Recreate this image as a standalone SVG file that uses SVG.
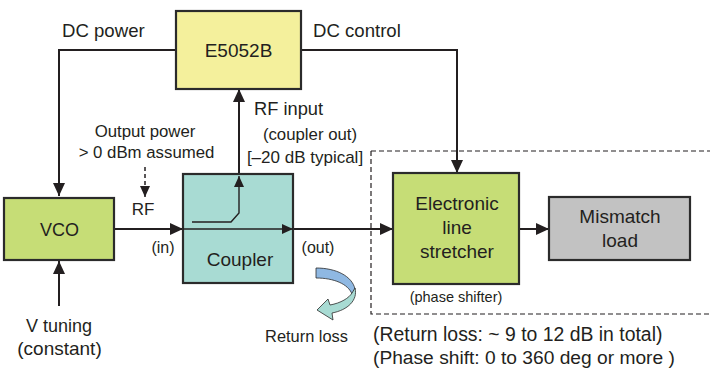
<svg xmlns="http://www.w3.org/2000/svg" width="710" height="370" viewBox="0 0 710 370">
<defs>
<style>
.t{font-family:"Liberation Sans Narrow","Liberation Sans",Arial,sans-serif;fill:#231f20}
.box{stroke:#2b2b2b;stroke-width:2.2}
.ln{fill:none;stroke:#231f20;stroke-width:2}
.thin{fill:none;stroke:#231f20;stroke-width:1.4}
</style>
<marker id="ah" markerUnits="userSpaceOnUse" markerWidth="14" markerHeight="12" refX="13" refY="6" orient="auto">
<path d="M0,0 L13,6 L0,12 Z" fill="#231f20"/>
</marker>
<marker id="ahs" markerUnits="userSpaceOnUse" markerWidth="12" markerHeight="10" refX="11" refY="5" orient="auto">
<path d="M0,0 L11,5 L0,10 Z" fill="#231f20"/>
</marker>
</defs>
<rect width="710" height="370" fill="#ffffff"/>

<g id="dashed-region">
<path d="M371,151 L710,151 M371,151 L371,314 L710,314" fill="none" stroke="#231f20" stroke-width="1.2" stroke-dasharray="5,3"/>
</g>

<g id="connectors">
<path class="ln" d="M176,50 L59,50 L59,196" marker-end="url(#ah)"/>
<path class="ln" d="M301,50 L457,50 L457,173" marker-end="url(#ah)"/>
<path class="ln" d="M59,306 L59,261" marker-end="url(#ah)"/>
<path class="ln" d="M114,229 L183,229" marker-end="url(#ah)"/>
<path class="ln" d="M293,229 L393,229" marker-end="url(#ah)"/>
<path class="ln" d="M519,229 L549,229" marker-end="url(#ah)"/>
<path class="ln" d="M239,174 L239,89" marker-end="url(#ah)"/>
<path d="M145,167 L145,197" fill="none" stroke="#231f20" stroke-width="1.5" stroke-dasharray="4,3" marker-end="url(#ahs)"/>
</g>

<g id="E5052B">
<rect class="box" x="176" y="11" width="125" height="78" fill="#f4f09c"/>
<text class="t" x="238.5" y="57" font-size="19" text-anchor="middle">E5052B</text>
</g>

<g id="VCO">
<rect class="box" x="4" y="198" width="110" height="62" fill="#c6dd76"/>
<text class="t" x="59.5" y="236" font-size="18" text-anchor="middle">VCO</text>
</g>

<g id="Coupler">
<rect class="box" x="183" y="174" width="110" height="109" fill="#a8dbd3"/>
<path class="thin" d="M183,229 L293,229" marker-end="url(#ahs)"/>
<path class="thin" d="M192,222 L231,222 L239,213 L239,176" marker-end="url(#ahs)"/>
<text class="t" x="240" y="266" font-size="19" text-anchor="middle">Coupler</text>
</g>

<g id="stretcher">
<rect class="box" x="393" y="173" width="126" height="111" fill="#c6dd76"/>
<text class="t" x="457" y="210" font-size="19" text-anchor="middle">Electronic</text>
<text class="t" x="457" y="234" font-size="19" text-anchor="middle">line</text>
<text class="t" x="457" y="258" font-size="19" text-anchor="middle">stretcher</text>
</g>

<g id="mismatch">
<rect class="box" x="549" y="197" width="141" height="63" fill="#c2c2c2"/>
<text class="t" x="620" y="223" font-size="19" text-anchor="middle">Mismatch</text>
<text class="t" x="620" y="247" font-size="19" text-anchor="middle">load</text>
</g>

<g id="return-loss-arrow">
<path d="M316,268 C336,268 352,276 355,289 L352,294 C348,284 334,278 316,278 Z" fill="#8fb8e2" stroke="#2b2b2b" stroke-width="0.8"/>
<path d="M355,288 C358,300 348,310 332,313 L333,320 L317,310 L328,299 L330,305 C341,303 349,298 352,293 Z" fill="#a8dbd3" stroke="#2b2b2b" stroke-width="0.8"/>
</g>

<g id="labels">
<text class="t" x="62" y="37" font-size="18.6">DC power</text>
<text class="t" x="313" y="37" font-size="18.6">DC control</text>
<text class="t" x="254" y="115" font-size="18.3">RF input</text>
<text class="t" x="310" y="140" font-size="16.8" text-anchor="middle">(coupler out)</text>
<text class="t" x="305" y="163" font-size="17" text-anchor="middle">[–20 dB typical]</text>
<text class="t" x="145" y="137" font-size="16.8" text-anchor="middle">Output power</text>
<text class="t" x="146.5" y="158" font-size="16.8" text-anchor="middle">&gt; 0 dBm assumed</text>
<text class="t" x="143" y="215" font-size="17" text-anchor="middle">RF</text>
<text class="t" x="163" y="253" font-size="16" text-anchor="middle">(in)</text>
<text class="t" x="318" y="253" font-size="16" text-anchor="middle">(out)</text>
<text class="t" x="306.5" y="342" font-size="16.4" text-anchor="middle">Return loss</text>
<text class="t" x="456" y="302" font-size="14.5" text-anchor="middle">(phase shifter)</text>
<text class="t" x="59" y="332" font-size="18" text-anchor="middle">V tuning</text>
<text class="t" x="59.5" y="355" font-size="19" text-anchor="middle">(constant)</text>
<text class="t" x="373" y="341" font-size="19.4">(Return loss: ~ 9 to 12 dB in total)</text>
<text class="t" x="373" y="364" font-size="19.2">(Phase shift: 0 to 360 deg or more )</text>
</g>
</svg>
